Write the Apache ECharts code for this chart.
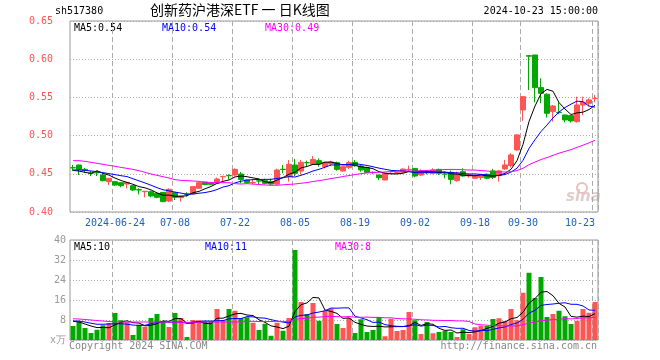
<!DOCTYPE html>
<html><head><meta charset="utf-8">
<script src="https://cdn.jsdelivr.net/npm/echarts@6/dist/echarts.min.js"></script>
<style>html,body{margin:0;padding:0;background:#fff}#c{width:660px;height:360px}</style>
</head><body><div id="c"></div>
<script>
const dates = ['2024-06-13','2024-06-14','2024-06-17','2024-06-18','2024-06-19','2024-06-20','2024-06-21','2024-06-24','2024-06-25','2024-06-26','2024-06-27','2024-06-28',
'2024-07-01','2024-07-02','2024-07-03','2024-07-04','2024-07-05','2024-07-08','2024-07-09','2024-07-10','2024-07-11','2024-07-12','2024-07-15','2024-07-16','2024-07-17','2024-07-18','2024-07-19','2024-07-22','2024-07-23','2024-07-24','2024-07-25','2024-07-26','2024-07-29','2024-07-30','2024-07-31',
'2024-08-01','2024-08-02','2024-08-05','2024-08-06','2024-08-07','2024-08-08','2024-08-09','2024-08-12','2024-08-13','2024-08-14','2024-08-15','2024-08-16','2024-08-19','2024-08-20','2024-08-21','2024-08-22','2024-08-23','2024-08-26','2024-08-27','2024-08-28','2024-08-29','2024-08-30',
'2024-09-02','2024-09-03','2024-09-04','2024-09-05','2024-09-06','2024-09-09','2024-09-10','2024-09-11','2024-09-12','2024-09-13','2024-09-18','2024-09-19','2024-09-20','2024-09-23','2024-09-24','2024-09-25','2024-09-26','2024-09-27','2024-09-30',
'2024-10-08','2024-10-09','2024-10-10','2024-10-11','2024-10-14','2024-10-15','2024-10-16','2024-10-17','2024-10-18','2024-10-21','2024-10-22','2024-10-23'];

const tickDates = ['2024-06-24','2024-07-08','2024-07-22','2024-08-05','2024-08-19','2024-09-02','2024-09-18','2024-09-30','2024-10-23'];

const opens = [.4580,.4615,.4558,.4508,.4520,.4484,.4397,.4397,.4384,.4366,
.4345,.4292,.4266,.4266,.4245,.4257,.4144,.4253,.4188,.4236,
.4236,.4310,.4392,.4380,.4375,.4462,.4477,.4484,.4497,.4419,
.4383,.4408,.4410,.4397,.4366,.4560,.4462,.4615,.4536,.4646,
.4624,.4672,.4593,.4628,.4646,.4537,.4584,.4650,.4602,.4584,
.4520,.4484,.4419,.4503,.4506,.4520,.4555,.4571,.4484,.4520,
.4506,.4558,.4498,.4519,.4410,.4528,.4471,.4442,.4451,.4494,
.4538,.4477,.4564,.4608,.4813,.5336,.6046,.6055,.5628,.5541,
.5314,.5305,.5270,.5262,.5183,.5401,.5423,.5484];
const closes = [.4578,.4558,.4546,.4506,.4512,.4410,.4441,.4353,.4345,.4388,
.4288,.4288,.4272,.4210,.4192,.4136,.4297,.4192,.4210,.4232,
.4332,.4384,.4360,.4362,.4432,.4466,.4475,.4558,.4427,.4384,
.4388,.4405,.4375,.4366,.4550,.4556,.4624,.4506,.4650,.4644,
.4689,.4628,.4650,.4655,.4558,.4593,.4646,.4606,.4550,.4519,
.4515,.4449,.4506,.4506,.4515,.4562,.4558,.4471,.4541,.4515,
.4550,.4506,.4497,.4427,.4506,.4471,.4490,.4477,.4486,.4442,
.4451,.4538,.4616,.4747,.5009,.5510,.6040,.5628,.5554,.5292,
.5388,.5301,.5205,.5192,.5401,.5436,.5467,.5488];
const lows = [.4536,.4484,.4515,.4471,.4471,.4400,.4353,.4340,.4323,.4310,
.4275,.4231,.4192,.4192,.4180,.4130,.4130,.4157,.4136,.4201,
.4230,.4305,.4350,.4350,.4370,.4388,.4427,.4462,.4375,.4371,
.4362,.4362,.4362,.4353,.4353,.4506,.4397,.4471,.4493,.4602,
.4615,.4593,.4571,.4600,.4540,.4530,.4562,.4593,.4528,.4510,
.4500,.4419,.4415,.4497,.4500,.4506,.4528,.4454,.4471,.4493,
.4493,.4484,.4441,.4362,.4397,.4462,.4449,.4436,.4420,.4430,
.4434,.4398,.4551,.4582,.4800,.5192,.5597,.5436,.5423,.5236,
.5183,.5279,.5175,.5170,.5170,.5270,.5380,.5436];
const highs = [.4615,.4620,.4576,.4537,.4528,.4515,.4445,.4400,.4388,.4390,
.4350,.4310,.4275,.4279,.4250,.4260,.4310,.4257,.4212,.4257,
.4340,.4390,.4397,.4390,.4450,.4475,.4493,.4571,.4523,.4425,
.4427,.4436,.4436,.4436,.4567,.4615,.4680,.4693,.4680,.4672,
.4733,.4702,.4659,.4670,.4660,.4600,.4672,.4680,.4615,.4590,
.4530,.4490,.4510,.4520,.4520,.4571,.4606,.4575,.4558,.4541,
.4571,.4567,.4528,.4541,.4528,.4571,.4506,.4490,.4490,.4505,
.4564,.4551,.4682,.4769,.5018,.5510,.6046,.6055,.5750,.5554,
.5401,.5436,.5275,.5270,.5510,.5510,.5488,.5532];
const volumes = [5.6,7.5,4.8,2.8,4.1,5.9,6.8,10.8,7.9,7.1,
2.0,6.1,5.3,8.8,10.4,7.6,5.2,10.8,8.8,1.2,
8.0,7.9,7.6,7.7,12.4,8.0,12.4,11.7,8.8,9.1,
6.9,4.0,6.5,1.7,6.9,3.7,8.8,36.0,15.2,10.4,
14.8,7.7,11.7,12.6,6.4,4.8,8.8,2.8,8.3,3.2,
4.0,9.2,1.5,8.5,3.6,4.0,11.2,7.9,2.4,7.2,
2.7,3.2,3.7,3.2,1.2,4.3,2.4,5.1,5.7,5.6,
8.4,8.7,7.6,12.4,7.9,18.9,26.9,16.8,25.2,9.2,
10.4,11.7,9.5,6.4,7.7,12.4,10.9,15.2];

// moving-average values before a full window is available
const ma5Head = [.4545,.4536,.4519,.4506];
const ma10Head = [.4550,.4550,.4545,.4537,.4528,.4515,.4502,.4489,.4475];
const ma30Head = [.4672,.4672,.4663,.4650,.4637,.4624,.4611,.4598,.4584,.4571,
.4558,.4541,.4519,.4497,.4480,.4462,.4445,.4423,.4414,.4410,
.4406,.4401,.4388,.4388,.4384,.4384,.4384,.4371,.4366];
const vma5Head = [7.5,7.2,6.4,5.6];
const vma10Head = [7.6,7.6,7.2,6.7,6.3,6.3,6.4,6.5,6.5];
const vma30Head = [8.5,8.4,8.2,8.0,7.8,7.6,7.4,7.3,7.2,7.2,7.2,7.2,7.2,7.2,7.2,7.2,7.2,7.1,7.1,7.1,7.1,7.1,7.2,7.2,7.2,7.2,7.2,7.2,7.2];

const priceTicks = [0.40,0.45,0.50,0.55,0.60,0.65];
const volTicks = [0,8,16,24,32,40];

function movingAvg(src, n, head){
  return src.map((v,i)=>{
    if(i < n-1) return head[i];
    let s=0; for(let k=i-n+1;k<=i;k++) s+=src[k];
    return s/n;
  });
}

const RED='#ff5555', GREEN='#00a800';
const candles = dates.map((d,i)=>[opens[i],closes[i],lows[i],highs[i]]);
const volData = volumes.map((v,i)=>({value:v,itemStyle:{color: closes[i]>=opens[i]?RED:GREEN}}));
const tickIdx = tickDates.map(d=>dates.indexOf(d));
const isTick = (i)=>tickIdx.indexOf(i)>=0;
const MONO='"DejaVu Sans Mono", monospace';
const GRID_L=70, GRID_W=528;

const chart = echarts.init(document.getElementById('c'), null, {renderer:'canvas'});
const splitX = {show:true, interval:(i)=>isTick(i), lineStyle:{color:'#aaa', type:[5,3], width:1}};
chart.setOption({
  animation:false,
  backgroundColor:'#fff',
  grid:[
    {left:GRID_L, top:21, width:GRID_W, height:191, show:true, borderColor:'#999', borderWidth:1, backgroundColor:'transparent'},
    {left:GRID_L, top:240, width:GRID_W, height:100, show:true, borderColor:'#999', borderWidth:1, backgroundColor:'transparent'}
  ],
  xAxis:[
    {type:'category', gridIndex:0, data:dates, boundaryGap:true,
     axisLine:{show:false}, axisTick:{show:false, interval:(i)=>isTick(i)},
     axisLabel:{show:true, interval:(i)=>isTick(i), color:'#2060c0', fontFamily:MONO, fontSize:10, margin:6,
       alignMaxLabel:'right',
       formatter:(v)=> v===tickDates[0] ? v : v.slice(5)},
     splitLine:splitX},
    {type:'category', gridIndex:1, data:dates, boundaryGap:true,
     axisLine:{show:false}, axisTick:{show:false, interval:(i)=>isTick(i)}, axisLabel:{show:false},
     splitLine:splitX}
  ],
  yAxis:[
    {type:'value', gridIndex:0, min:priceTicks[0], max:priceTicks[priceTicks.length-1], interval:0.05,
     axisLine:{show:false}, axisTick:{show:false},
     axisLabel:{fontFamily:MONO, fontSize:10, margin:17, color:RED,
       formatter:(v)=>v.toFixed(2)},
     splitLine:{show:true, lineStyle:{color:'#aaa', type:[1,2], width:1}}},
    {type:'value', gridIndex:1, min:volTicks[0], max:volTicks[volTicks.length-1], interval:8,
     axisLine:{show:false}, axisTick:{show:false},
     axisLabel:{fontFamily:MONO, fontSize:10, margin:4, color:'#999',
       formatter:(v)=> v===0 ? 'x万' : String(v)},
     splitLine:{show:true, lineStyle:{color:'#aaa', type:[1,2], width:1}}}
  ],
  series:[
    {type:'candlestick', xAxisIndex:0, yAxisIndex:0, data:candles, barWidth:5,
     itemStyle:{color:RED, color0:GREEN, borderColor:RED, borderColor0:GREEN, borderWidth:1}},
    {type:'line', xAxisIndex:0, yAxisIndex:0, data:movingAvg(closes,5,ma5Head), symbol:'none', lineStyle:{color:'#000', width:1}},
    {type:'line', xAxisIndex:0, yAxisIndex:0, data:movingAvg(closes,10,ma10Head), symbol:'none', lineStyle:{color:'#0000ff', width:1}},
    {type:'line', xAxisIndex:0, yAxisIndex:0, data:movingAvg(closes,30,ma30Head), symbol:'none', lineStyle:{color:'#ff00ff', width:1}},
    {type:'bar', xAxisIndex:1, yAxisIndex:1, data:volData, barWidth:5},
    {type:'line', xAxisIndex:1, yAxisIndex:1, data:movingAvg(volumes,5,vma5Head), symbol:'none', lineStyle:{color:'#000', width:1}},
    {type:'line', xAxisIndex:1, yAxisIndex:1, data:movingAvg(volumes,10,vma10Head), symbol:'none', lineStyle:{color:'#0000ff', width:1}},
    {type:'line', xAxisIndex:1, yAxisIndex:1, data:movingAvg(volumes,30,vma30Head), symbol:'none', lineStyle:{color:'#ff00ff', width:1}}
  ],
  graphic:[
    {type:'text', left:55, top:6, style:{text:'sh517380', font:'10px '+MONO, fill:'#000'}},
    {type:'text', left:150, top:3, style:{text:'创新药沪港深ETF 一 日K线图', font:'14px "Noto Sans CJK SC"', fill:'#000'}},
    {type:'text', right:62, top:6, style:{text:'2024-10-23 15:00:00', font:'10px '+MONO, fill:'#000'}},
    {type:'text', left:74, top:23, style:{text:'MA5:0.54', font:'10px '+MONO, fill:'#000'}},
    {type:'text', left:162, top:23, style:{text:'MA10:0.54', font:'10px '+MONO, fill:'#0000ff'}},
    {type:'text', left:265, top:23, style:{text:'MA30:0.49', font:'10px '+MONO, fill:'#ff00ff'}},
    {type:'text', left:74, top:242, style:{text:'MA5:10', font:'10px '+MONO, fill:'#000'}},
    {type:'text', left:205, top:242, style:{text:'MA10:11', font:'10px '+MONO, fill:'#0000ff'}},
    {type:'text', left:335, top:242, style:{text:'MA30:8', font:'10px '+MONO, fill:'#ff00ff'}},
    {type:'text', left:69, top:341, style:{text:'Copyright 2024 SINA.COM', font:'10px '+MONO, fill:'#888'}},
    {type:'text', right:63, top:341, style:{text:'http://finance.sina.com.cn', font:'10px '+MONO, fill:'#888'}},
    {type:'text', left:566, top:190, z:-1, style:{text:'sina', font:'italic bold 15px "DejaVu Sans"', fill:'#e2cccc'}},
    {type:'circle', shape:{cx:582, cy:188, r:5}, z:-1, style:{fill:'none', stroke:'#e8c0c0', lineWidth:2}}
  ]
});
</script></body></html>
